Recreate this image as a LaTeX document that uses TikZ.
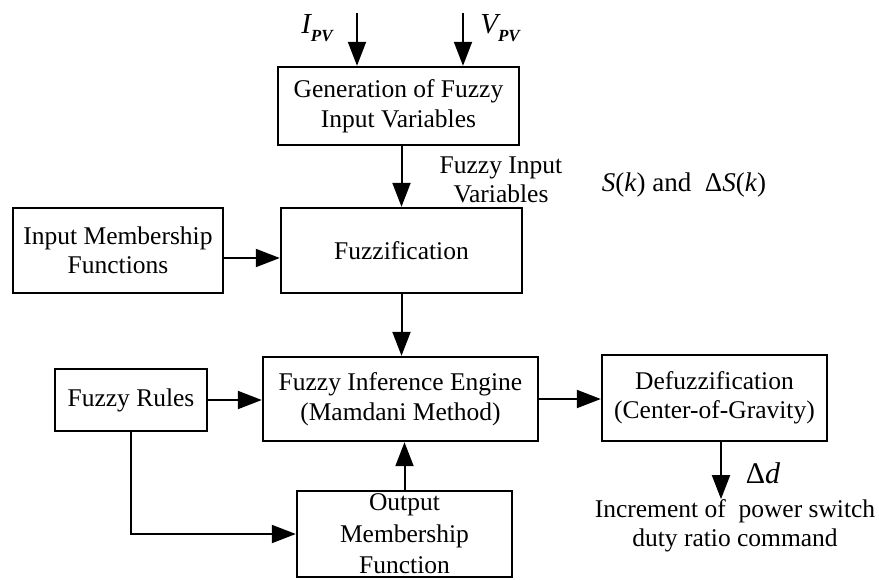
\documentclass[tikz,border=0pt]{standalone}
\usepackage{fontspec}
\setmainfont{Liberation Serif}
\usetikzlibrary{arrows.meta,calc}
\tikzset{
  every node/.style={font=\fontsize{12.75}{14.75}\selectfont},
  blk/.style={draw, line width=1.2pt, inner sep=0pt, align=center},
  arr/.style={line width=1pt, -{Triangle[length=12pt,width=9pt]}},
  lbl/.style={inner sep=0pt, align=center}
}
\begin{document}
\begin{tikzpicture}[x=0.5pt,y=-0.5pt]
\useasboundingbox (0,0) rectangle (879,579);
% blocks
\node[blk, minimum width=120.5pt, minimum height=39pt] (gen) at (398.5,106) {Generation of Fuzzy\\Input Variables};
\node[blk, minimum width=120.5pt, minimum height=42.5pt] (fuzz) at (401.5,250.5) {Fuzzification};
\node[blk, minimum width=105pt, minimum height=42.5pt] (inp) at (118,250.5) {Input Membership\\Functions};
\node[blk, minimum width=137.5pt, minimum height=42pt] (inf) at (400.5,399) {Fuzzy Inference Engine\\(Mamdani Method)};
\node[blk, minimum width=112.5pt, minimum height=43pt] (def) at (714.5,398) {Defuzzification\\(Center-of-Gravity)};
\node[blk, minimum width=76pt, minimum height=31pt] (rules) at (131,400) {Fuzzy Rules};
\node[blk, minimum width=107.5pt, minimum height=43pt, font=\fontsize{12.75}{15.75}\selectfont] (out) at (404.5,534) {Output\\Membership\\Function};
% labels
\node[lbl] (ipvl) at (317,28) {\fontsize{14.5}{15}\selectfont\itshape I\raisebox{-0.55ex}{\fontsize{8.5}{9}\selectfont\bfseries PV}};
\node[lbl] (vpvl) at (500,28) {\fontsize{14.5}{15}\selectfont\itshape V\raisebox{-0.55ex}{\fontsize{8.5}{9}\selectfont\bfseries PV}};
\node[lbl] (fiv) at (501,180) {Fuzzy Input\\Variables};
\node[lbl] (sk) at (684,185) {\fontsize{13.5}{14}\selectfont\textit{S}(\textit{k}) and \ Δ\textit{S}(\textit{k})};
\node[lbl] (dd) at (763,473) {\fontsize{15}{15}\selectfont Δ\textit{d}};
\node[lbl] (inc) at (735,526) {Increment of~ power switch\\duty ratio command};
% free ends
\coordinate (ipv) at (357,13);
\coordinate (vpv) at (463,13);
% connectors
\draw[arr] (ipv) -- (ipv |- gen.north);
\draw[arr] (vpv) -- (vpv |- gen.north);
\draw[arr] (gen.south -| fuzz.north) -- (fuzz.north);
\draw[arr] ([yshift=-3.75pt]inp.east) -- ([yshift=-3.75pt]inp.east -| fuzz.west);
\draw[arr] (fuzz.south) -- (fuzz.south |- inf.north);
\draw[arr] (rules.east) -- (rules.east -| inf.west);
\draw[arr] (inf.east) -- (inf.east -| def.west);
\draw[arr] (out.north) -- (out.north |- inf.south);
\draw[arr] (rules.south) |- (out.west);
\draw[arr] ([xshift=3.25pt]def.south) -- ([xshift=3.25pt]def.south |- inc.north);
\end{tikzpicture}
\end{document}
